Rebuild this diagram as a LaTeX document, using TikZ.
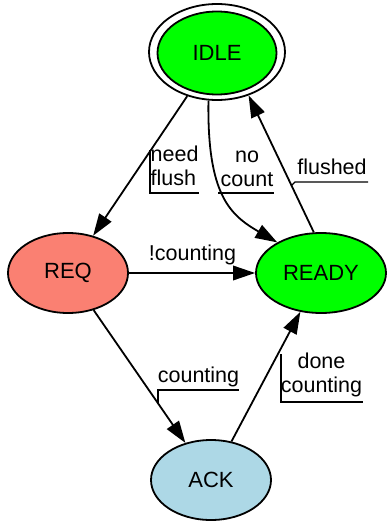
\documentclass[tikz,border=0pt]{standalone}
\usepackage{fontspec}
\setmainfont{Liberation Sans}
\usetikzlibrary{shapes.geometric,arrows.meta}
\definecolor{stategreen}{RGB}{0,255,0}
\definecolor{reqsalmon}{RGB}{250,128,114}
\definecolor{acklight}{RGB}{173,216,230}
\begin{document}
\begin{tikzpicture}[x=1pt,y=-1pt,
  state/.style={ellipse,draw=black,line width=1.8pt,inner sep=0pt,font=\fontsize{22}{24}\selectfont},
  edge/.style={line width=1.8pt,-{Triangle[length=22pt,width=14.5pt]}},
  lbl/.style={inner sep=0pt,font=\fontsize{21.5}{24}\selectfont},
  uline/.style={line width=1.4pt}]
\useasboundingbox (0,0) rectangle (387,521);
% states
\node[state,fill=white,minimum width=136pt,minimum height=96pt] (idleo) at (217,52) {};
\node[state,fill=stategreen,minimum width=119pt,minimum height=83pt] (idle) at (217,53) {IDLE};
\node[state,fill=reqsalmon,minimum width=120pt,minimum height=80pt] (req) at (68,273) {REQ};
\node[state,fill=stategreen,minimum width=130pt,minimum height=80pt] (ready) at (321,273) {READY};
\node[state,fill=acklight,minimum width=120pt,minimum height=80pt] (ack) at (211,480) {ACK};
% transitions
\draw[edge] (idleo) -- (req);
\draw[edge] (idleo.260) .. controls (207,195) and (230,215) .. (ready.145);
\draw[edge] (ready.100) -- (idleo.-54);
\draw[edge] (req) -- (ready);
\draw[edge] (req) -- (ack);
\draw[edge] (ack) -- (ready);
% labels
\node[lbl,align=left,anchor=south west,text depth=0pt] (lnf) at (150.5,186) {need\\flush};
\node[lbl,align=center,anchor=south,text depth=0pt] (lnc) at (247,187) {no\\count};
\node[lbl,anchor=base] (lfl) at (332,175) {flushed};
\node[lbl,anchor=base] (lnot) at (192.5,260) {!counting};
\node[lbl,anchor=base] (lcnt) at (198.5,382) {counting};
\node[lbl,align=center,anchor=south,text depth=0pt] (ldc) at (321.5,393) {done\\counting};
% label underlines
\draw[uline] (150,150) -- (150,193) -- (199,193);
\draw[uline] (218,193) -- (274,193);
\draw[uline] (291,186) -- (295,182) -- (368,182);
\draw[uline] (158,403) -- (158,390) -- (239,390);
\draw[uline] (281,354) -- (281,402) -- (363,402);
\end{tikzpicture}
\end{document}
